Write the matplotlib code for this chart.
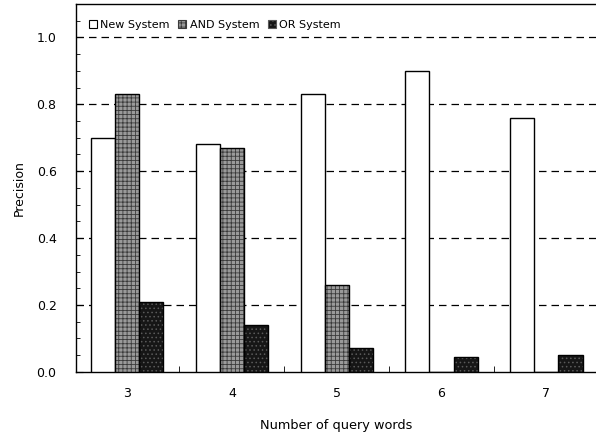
import matplotlib.pyplot as plt
import numpy as np
from matplotlib.patches import Patch
from matplotlib.ticker import MultipleLocator

query_words = ["3", "4", "5", "6", "7"]
new_system = [0.70, 0.68, 0.83, 0.90, 0.76]
and_system = [0.83, 0.67, 0.26, 0.0, 0.0]
or_system = [0.21, 0.14, 0.07, 0.045, 0.05]

plt.rcParams["font.family"] = "DejaVu Sans"
plt.rcParams["hatch.linewidth"] = 0.6

fig = plt.figure(figsize=(5.96, 4.38), dpi=100)
ax = fig.add_axes([0.1275, 0.151, 0.872, 0.840])

x = np.arange(len(query_words))
w = 0.23
ax.bar(x - w, new_system, w, color="white", edgecolor="black", linewidth=1.0, zorder=3)
ax.bar(x, and_system, w, color="#9a9a9a", edgecolor="#3a3a3a", linewidth=0,
       hatch="++++", zorder=3)
ax.bar(x, and_system, w, fill=False, edgecolor="black", linewidth=1.0, zorder=4)
ax.bar(x + w, or_system, w, color="#161616", edgecolor="#5a5a5a", linewidth=0,
       hatch="....", zorder=3)
ax.bar(x + w, or_system, w, fill=False, edgecolor="black", linewidth=1.0, zorder=4)

ax.set_ylim(0, 1.1)
ax.set_xlim(-0.486, 4.47)
ax.set_yticks([0.0, 0.2, 0.4, 0.6, 0.8, 1.0])
ax.set_yticklabels(["0.0", "0.2", "0.4", "0.6", "0.8", "1.0"])
ax.yaxis.set_minor_locator(MultipleLocator(0.05))
ax.tick_params(axis="y", which="major", direction="in", length=5, labelsize=9, pad=14)
ax.tick_params(axis="y", which="minor", direction="in", length=3)

ax.set_xticks(x)
ax.set_xticklabels(query_words)
ax.set_xticks(x[:-1] + 0.5, minor=True)
ax.tick_params(axis="x", which="major", length=0, labelsize=9, pad=11)
ax.tick_params(axis="x", which="minor", direction="in", length=4)

for yv in [0.2, 0.4, 0.6, 0.8, 1.0]:
    ax.axhline(yv, color="black", linestyle=(0, (6, 4)), linewidth=0.9, zorder=1)

ax.spines["right"].set_visible(False)
for s in ["left", "bottom", "top"]:
    ax.spines[s].set_linewidth(1.0)

ax.set_ylabel("Precision", fontsize=9, labelpad=8)
ax.set_xlabel("Number of query words", fontsize=9.3)
ax.xaxis.set_label_coords(0.5, -0.128)

handles = [
    Patch(facecolor="white", edgecolor="black", linewidth=0.8),
    Patch(facecolor="#9a9a9a", edgecolor="#3a3a3a", hatch="++++", linewidth=0.8),
    Patch(facecolor="#161616", edgecolor="#5a5a5a", hatch="....", linewidth=0.8),
]
ax.legend(handles, ["New System", "AND System", "OR System"],
          loc="upper left", ncol=3, frameon=False, fontsize=8,
          handlelength=0.7, handleheight=0.7, handletextpad=0.3,
          columnspacing=0.8, bbox_to_anchor=(0.012, 0.975), borderaxespad=0.2)

fig.savefig("out.png", dpi=100)
